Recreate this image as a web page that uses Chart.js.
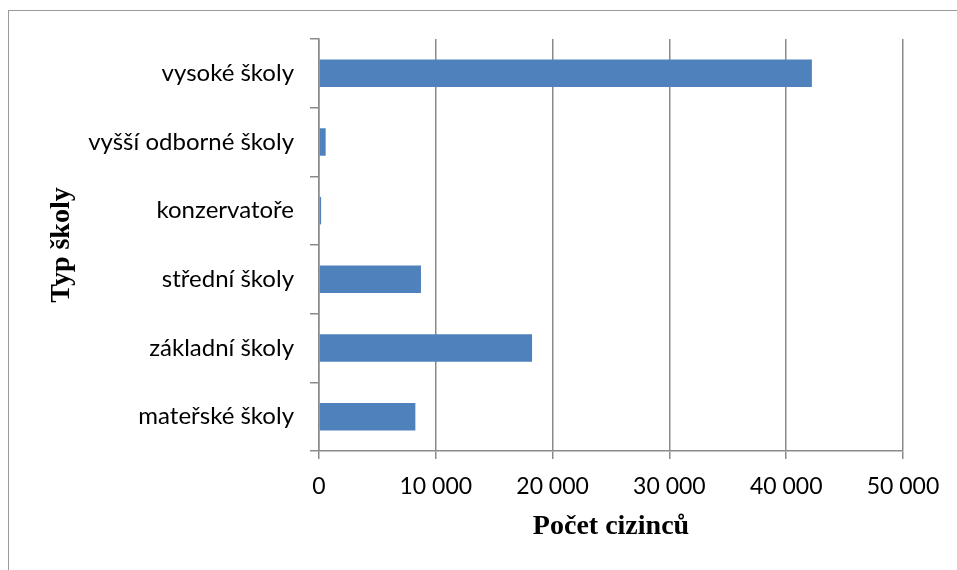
<!DOCTYPE html>
<html>
<head>
<meta charset="utf-8">
<script src="https://cdn.jsdelivr.net/npm/chart.js@4"></script>
<style>
  html, body { margin: 0; padding: 0; background: #fff; }
  #wrap { position: relative; width: 957px; height: 570px; overflow: hidden; }
  #frame { position: absolute; left: 8px; top: 10px; width: 1000px; height: 600px;
           border-left: 1px solid #9a9a9a; border-top: 1px solid #9a9a9a; }
  canvas { position: absolute; left: 0; top: 0; }
</style>
</head>
<body>
<div id="wrap">
  <div id="frame"></div>
  <canvas id="myChart" width="957" height="570"></canvas>
</div>
<script>
var categories = ['vysoké školy', 'vyšší odborné školy', 'konzervatoře', 'střední školy', 'základní školy', 'mateřské školy'];
var values = [42200, 570, 180, 8730, 18240, 8250];
var xTicks = [0, 10000, 20000, 30000, 40000, 50000];

function fmt(v) {
  return String(v).replace(/\B(?=(\d{3})+(?!\d))/g, ' ');
}

var titleFont = { family: 'Liberation Serif', size: 28, weight: 'bold' };

var ctx = document.getElementById('myChart').getContext('2d');
var myChart = new Chart(ctx, {
  type: 'bar',
  data: {
    labels: categories,
    datasets: [{
      data: values,
      backgroundColor: '#4f81bd',
      borderWidth: 0,
      barPercentage: 0.4,
      categoryPercentage: 1.0
    }]
  },
  options: {
    indexAxis: 'y',
    responsive: false,
    animation: false,
    layout: { padding: { left: 0, top: 39, right: 54, bottom: 0 } },
    plugins: { legend: { display: false }, tooltip: { enabled: false } },
    scales: {
      x: {
        min: 0,
        max: 50000,
        afterBuildTicks: function (s) { s.ticks = xTicks.map(function (v) { return { value: v }; }); },
        afterFit: function (s) { s.height = 119; },
        ticks: { color: '#000', font: { family: 'Lato', size: 23 }, padding: 14, maxRotation: 0, callback: function (v) { return fmt(v); } },
        grid: { color: '#8a8a8a', lineWidth: 1.5, tickLength: 8, drawOnChartArea: true },
        border: { display: true, color: '#8a8a8a', width: 1.5 },
        title: { display: true, text: 'Počet cizinců', color: '#000', font: titleFont, padding: { top: 0, bottom: 26 } }
      },
      y: {
        afterFit: function (s) { s.width = 319; },
        ticks: { color: '#000', font: { family: 'Lato', size: 24 }, padding: 16 },
        grid: { color: '#8a8a8a', lineWidth: 1.5, tickLength: 9, drawOnChartArea: false, offset: true },
        border: { display: true, color: '#8a8a8a', width: 1.5 },
        title: { display: true, text: 'Typ školy', color: '#000', font: titleFont, padding: { top: 45, bottom: 0 } }
      }
    }
  }
});
</script>
</body>
</html>
